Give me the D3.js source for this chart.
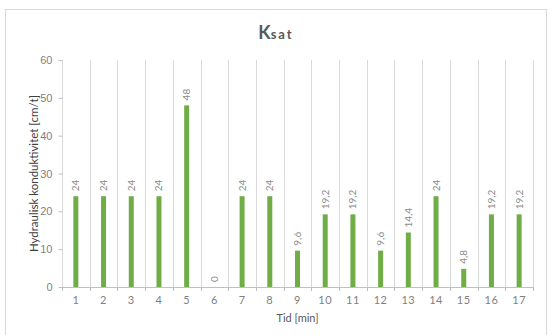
<!DOCTYPE html>
<html>
<head>
<meta charset="utf-8">
<script src="https://cdn.jsdelivr.net/npm/d3@7/dist/d3.min.js"></script>
<style>
  html, body { margin: 0; padding: 0; background: #fff; }
  svg { display: block; font-family: Lato, "Open Sans", sans-serif; }
</style>
</head>
<body>
<svg id="chart" width="552" height="335"></svg>
<script>
// Measurement times (minutes) and saturated hydraulic conductivity (cm/t)
const times = ["1","2","3","4","5","6","7","8","9","10","11","12","13","14","15","16","17"];
const ksat = [24, 24, 24, 24, 48, 0, 24, 24, 9.6, 19.2, 19.2, 9.6, 14.4, 24, 4.8, 19.2, 19.2];
const yTicks = [0, 10, 20, 30, 40, 50, 60];

const svg = d3.select("#chart");
const m = { left: 62, right: 533, top: 60, bottom: 287 };

// chart frame
svg.append("rect")
  .attr("x", 5.5).attr("y", 9.5)
  .attr("width", 541).attr("height", 340)
  .attr("fill", "#fff").attr("stroke", "#d9d9d9");

const x = d3.scaleBand().domain(times).range([m.left, m.right]).padding(0);
const y = d3.scaleLinear().domain([0, 60]).range([m.bottom, m.top]);

// vertical gridlines at category boundaries
const bounds = times.map(t => x(t)).concat([x(times[times.length - 1]) + x.bandwidth()]);
svg.append("g").selectAll("line").data(bounds).join("line")
  .attr("x1", d => Math.round(d) + 0.5).attr("x2", d => Math.round(d) + 0.5)
  .attr("y1", m.top).attr("y2", m.bottom)
  .attr("stroke", "#d9d9d9").attr("stroke-width", 1);

// y axis: tick marks and labels only
const yAxis = svg.append("g").attr("transform", `translate(${m.left + 0.5},0)`)
  .call(d3.axisLeft(y).tickValues(yTicks).tickSize(4).tickPadding(6));
yAxis.select(".domain").remove();
yAxis.selectAll(".tick line").attr("stroke", "#bfbfbf");
yAxis.selectAll(".tick text").attr("fill", "#7f7f7f").style("font-size", "11px");

// x axis line, boundary tick marks, labels
svg.append("line")
  .attr("x1", m.left).attr("x2", m.right + 1)
  .attr("y1", m.bottom + 0.5).attr("y2", m.bottom + 0.5)
  .attr("stroke", "#bfbfbf");
svg.append("g").selectAll("line").data(bounds).join("line")
  .attr("x1", d => Math.round(d) + 0.5).attr("x2", d => Math.round(d) + 0.5)
  .attr("y1", m.bottom).attr("y2", m.bottom + 4)
  .attr("stroke", "#bfbfbf");
svg.append("g").selectAll("text").data(times).join("text")
  .attr("x", d => x(d) + x.bandwidth() / 2)
  .attr("y", m.bottom + 17)
  .attr("text-anchor", "middle")
  .attr("fill", "#7f7f7f")
  .attr("letter-spacing", "0.5")
  .style("font-size", "11px")
  .text(d => d);

// bars
const barW = 5;
svg.append("g").selectAll("rect").data(ksat).join("rect")
  .attr("x", (d, i) => x(times[i]) + x.bandwidth() / 2 - barW / 2)
  .attr("y", d => y(d))
  .attr("width", barW)
  .attr("height", d => y(0) - y(d))
  .attr("fill", "#70ad47");

// value labels, rotated
svg.append("g").selectAll("text").data(ksat).join("text")
  .attr("transform", (d, i) => `translate(${x(times[i]) + x.bandwidth() / 2 + 3.5},${y(d) - 5}) rotate(-90)`)
  .attr("text-anchor", "start")
  .attr("fill", "#8c8c8c")
  .style("font-size", "10px")
  .text(d => String(d).replace(".", ","));

// title
const title = svg.append("text")
  .attr("x", 276).attr("y", 39)
  .attr("text-anchor", "middle")
  .attr("fill", "#595959")
  .style("font-weight", "bold");
title.append("tspan").style("font-size", "18px").text("K");
title.append("tspan").style("font-size", "13px").attr("letter-spacing", "2").text("sat");

// axis titles
svg.append("text")
  .attr("x", (m.left + m.right) / 2).attr("y", 322)
  .attr("text-anchor", "middle")
  .attr("fill", "#595959")
  .style("font-size", "11px")
  .text("Tid [min]");
svg.append("text")
  .attr("transform", `translate(38,${(m.top + m.bottom) / 2}) rotate(-90)`)
  .attr("text-anchor", "middle")
  .attr("fill", "#404040")
  .style("font-size", "11.5px")
  .text("Hydraulisk konduktivitet [cm/t]");
</script>
</body>
</html>
